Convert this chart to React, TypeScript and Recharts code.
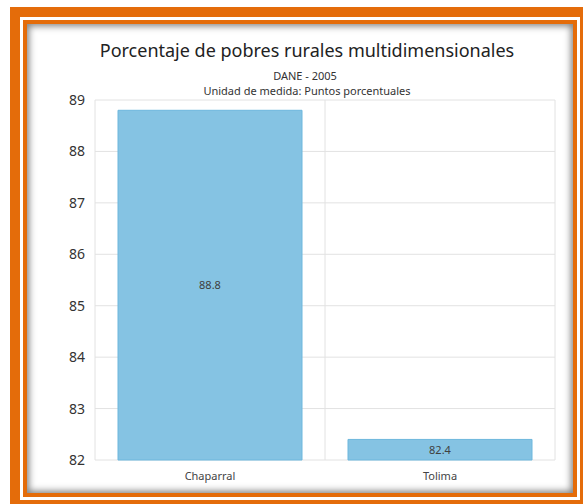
import React from "react";
import { BarChart, Bar, XAxis, YAxis, CartesianGrid, LabelList } from "recharts";

const categories = ["Chaparral", "Tolima"];
const values = [88.8, 82.4];
const yTicks = [82, 83, 84, 85, 86, 87, 88, 89];
const title = "Porcentaje de pobres rurales multidimensionales";
const subtitle1 = "DANE - 2005";
const subtitle2 = "Unidad de medida: Puntos porcentuales";

const data = categories.map((c, i) => ({ name: c, value: values[i] }));

const ORANGE = "#E46C0A";
const FONT = "'Noto Sans', 'Open Sans', sans-serif";

export default function App() {
  return (
    <div style={{ position: "absolute", left: 0, top: 0, width: 583, height: 504, overflow: "hidden", background: "#fff", fontFamily: FONT }}>
      {/* outer thick orange */}
      <div style={{ position: "absolute", left: 10, top: 7, width: 580, height: 503, background: ORANGE }} />
      {/* white gap */}
      <div style={{ position: "absolute", left: 20, top: 17, width: 560, height: 483, background: "#fff" }} />
      {/* thin orange */}
      <div style={{ position: "absolute", left: 23, top: 20, width: 554, height: 477, background: ORANGE }} />
      {/* panel */}
      <div style={{ position: "absolute", left: 27, top: 24, width: 546, height: 469, background: "#fff", boxShadow: "inset 0 0 7px 2px rgba(0,0,0,0.5)" }} />
      <div style={{ position: "absolute", left: 0, width: 614, top: 38, textAlign: "center", fontSize: 18, color: "#222", lineHeight: "24px" }}>{title}</div>
      <div style={{ position: "absolute", left: 0, width: 610, top: 69, textAlign: "center", fontSize: 11, color: "#333", lineHeight: "14px" }}>{subtitle1}</div>
      <div style={{ position: "absolute", left: 0, width: 614, top: 84, textAlign: "center", fontSize: 11, color: "#333", lineHeight: "14px" }}>{subtitle2}</div>
      <div style={{ position: "absolute", left: 0, top: 0 }}>
        <BarChart width={583} height={504} data={data} margin={{ top: 100, right: 28, bottom: 14, left: 0 }} barCategoryGap="10%">
          <CartesianGrid
            stroke="#e2e2e2"
            verticalCoordinatesGenerator={({ offset }: any) => [offset.left, offset.left + offset.width / 2, offset.left + offset.width]}
          />
          <XAxis dataKey="name" axisLine={false} tickLine={false} height={30} tickSize={6} tickMargin={6} tick={{ fontSize: 11, fill: "#444", fontFamily: FONT }} />
          <YAxis domain={[82, 89]} ticks={yTicks} width={95} axisLine={false} tickLine={false} tickSize={6} tickMargin={4} tick={{ fontSize: 14, fill: "#333", fontFamily: FONT }} />
          <Bar dataKey="value" fill="#85C3E3" stroke="#6DB7DD" strokeWidth={1} isAnimationActive={false}>
            <LabelList dataKey="value" position="center" style={{ fontSize: 11, fill: "#404040", fontFamily: FONT }} />
          </Bar>
        </BarChart>
      </div>
    </div>
  );
}
